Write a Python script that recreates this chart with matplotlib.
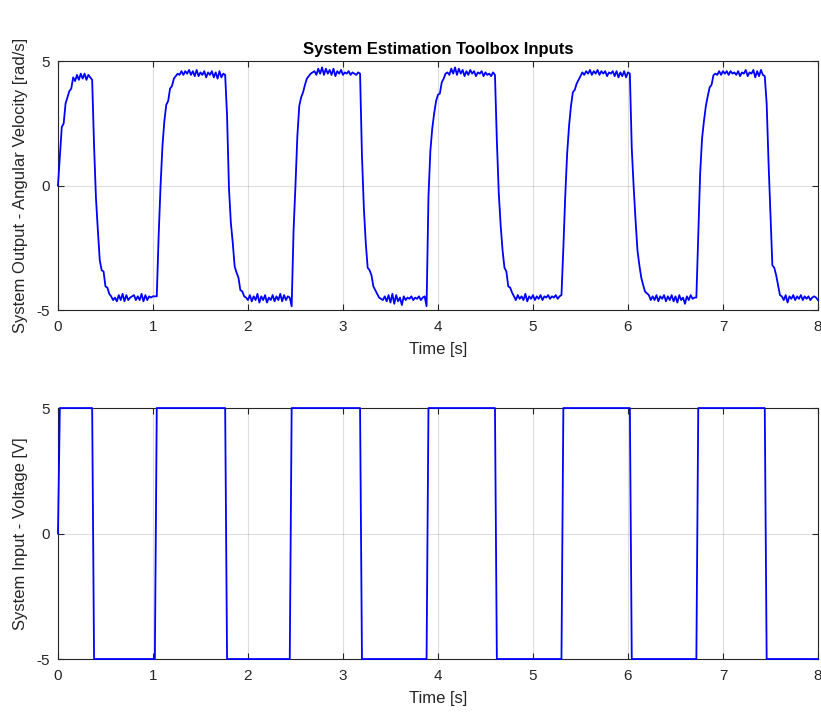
import matplotlib
matplotlib.use("Agg")
import matplotlib.pyplot as plt
import numpy as np

plt.rcParams['font.family'] = ['Liberation Sans', 'DejaVu Sans']
plt.rcParams['axes.unicode_minus'] = False

dt = 0.02  # sample time [s]

# input voltage: time of the last sample before each switch, and the new level
switch_times = [0.0, 0.36, 1.02, 1.76, 2.44, 3.18, 3.88, 4.60, 5.30, 6.02, 6.72, 7.44]
switch_levels = [5, -5, 5, -5, 5, -5, 5, -5, 5, -5, 5, -5]
t_end = 8.0

# output angular velocity [rad/s], sampled every dt, segment by segment
rise0 = [0.0, 1.2, 2.35, 2.5, 3.3, 3.55, 3.8, 3.9, 4.35]
high0 = [4.2, 4.45, 4.25, 4.5, 4.3, 4.5, 4.25, 4.45, 4.35, 4.25]
fall0 = [1.6, -0.5, -1.8, -3.0, -3.4, -3.45, -4.05, -4.1, -4.35, -4.45, -4.6, -4.5]
low0 = [-4.65, -4.4, -4.6, -4.35, -4.65, -4.4, -4.6, -4.5, -4.45, -4.4, -4.6,
        -4.45, -4.6, -4.35, -4.65, -4.4, -4.6, -4.45, -4.5, -4.45, -4.45]
rise1 = [-4.45, -2.0, 0.0, 1.6, 2.6, 3.25, 3.4, 3.9, 4.0, 4.3, 4.4, 4.5]
high1 = [4.45, 4.6, 4.45, 4.6, 4.5, 4.65, 4.45, 4.6, 4.4, 4.65, 4.4, 4.55, 4.45,
         4.6, 4.35, 4.55, 4.45, 4.6, 4.35, 4.55, 4.3, 4.6, 4.35, 4.5, 4.45]
fall1 = [2.8, -0.1, -1.5, -2.3, -3.25, -3.5, -3.7, -4.2, -4.25, -4.45, -4.5]
low1 = [-4.6, -4.4, -4.65, -4.45, -4.6, -4.35, -4.7, -4.45, -4.6, -4.4, -4.7, -4.5,
        -4.6, -4.4, -4.65, -4.45, -4.6, -4.35, -4.65, -4.4, -4.6, -4.45, -4.5, -4.85]
rise2 = [-1.8, 0.0, 2.0, 3.2, 3.55, 3.75, 4.05, 4.3, 4.4, 4.5, 4.55, 4.6]
high2 = [4.45, 4.7, 4.5, 4.75, 4.45, 4.7, 4.5, 4.65, 4.45, 4.7, 4.4, 4.6,
         4.5, 4.65, 4.45, 4.55, 4.5, 4.6, 4.45, 4.55, 4.5, 4.45, 4.55, 4.5]
fall2 = [1.2, -0.9, -2.3, -3.3, -3.4, -3.6, -4.05, -4.2, -4.35, -4.5]
low2 = [-4.55, -4.6, -4.45, -4.65, -4.4, -4.7, -4.35, -4.75, -4.4, -4.65, -4.5, -4.8,
        -4.45, -4.6, -4.5, -4.55, -4.45, -4.6, -4.5, -4.55, -4.45, -4.6, -4.5, -4.45, -4.85]
rise3 = [-0.45, 1.4, 2.3, 2.9, 3.4, 3.65, 3.7, 4.15, 4.3, 4.5, 4.55]
high3 = [4.45, 4.7, 4.5, 4.75, 4.45, 4.7, 4.5, 4.65, 4.4, 4.6, 4.45, 4.65, 4.5,
         4.6, 4.4, 4.55, 4.5, 4.6, 4.4, 4.55, 4.45, 4.5, 4.4, 4.55, 4.45]
fall3 = [1.8, -0.3, -1.6, -2.6, -3.3, -3.45, -4.05, -4.1, -4.3, -4.45]
low3 = [-4.6, -4.4, -4.55, -4.45, -4.6, -4.35, -4.65, -4.45, -4.55, -4.4, -4.6, -4.45,
        -4.55, -4.4, -4.6, -4.45, -4.5, -4.4, -4.55, -4.45, -4.5, -4.4, -4.55, -4.45, -4.4]
rise4 = [-2.5, -0.4, 1.3, 2.4, 3.2, 3.75, 3.85, 4.1, 4.25, 4.4, 4.55]
high4 = [4.45, 4.6, 4.5, 4.65, 4.45, 4.6, 4.5, 4.65, 4.45, 4.6, 4.5, 4.6, 4.4,
         4.55, 4.5, 4.6, 4.4, 4.6, 4.35, 4.55, 4.4, 4.6, 4.35, 4.55, 4.5]
fall4 = [1.5, -0.05, -1.4, -2.6, -3.2, -3.7, -4.0, -4.26, -4.33, -4.4, -4.6]
low4 = [-4.45, -4.6, -4.4, -4.65, -4.45, -4.55, -4.4, -4.65, -4.45, -4.6, -4.4, -4.65,
        -4.45, -4.7, -4.4, -4.6, -4.5, -4.75, -4.45, -4.6, -4.4, -4.55, -4.5, -4.5]
rise5 = [-2.0, 0.5, 1.9, 2.6, 3.2, 3.6, 3.95, 4.05, 4.44, 4.5]
high5 = [4.45, 4.6, 4.45, 4.6, 4.5, 4.6, 4.45, 4.6, 4.5, 4.55, 4.45, 4.6, 4.4,
         4.55, 4.5, 4.65, 4.4, 4.55, 4.5, 4.65, 4.35, 4.6, 4.4, 4.65, 4.45, 4.4]
fall5 = [3.3, 0.9, -1.2, -3.2, -3.3, -3.6, -4.0, -4.4, -4.45]
low5 = [-4.6, -4.4, -4.7, -4.45, -4.55, -4.4, -4.6, -4.45, -4.55, -4.4,
        -4.6, -4.45, -4.55, -4.45, -4.6, -4.5, -4.45, -4.5, -4.6]

omega = np.concatenate([rise0, high0, fall0, low0, rise1, high1, fall1, low1,
                        rise2, high2, fall2, low2, rise3, high3, fall3, low3,
                        rise4, high4, fall4, low4, rise5, high5, fall5, low5])
assert len(omega) == 401, len(omega)
t_out = np.arange(len(omega)) * dt

# build input breakpoints from the switch list
t_in, u_in = [], []
prev = 0
for ts, lvl in zip(switch_times, switch_levels):
    t_in += [ts, ts + dt]
    u_in += [prev, lvl]
    prev = lvl
t_in.append(t_end)
u_in.append(prev)

fig = plt.figure(figsize=(8.21, 7.15), dpi=100)
ax1 = fig.add_axes([0.0706, 0.5664, 0.9257, 0.348])
ax2 = fig.add_axes([0.0706, 0.0783, 0.9257, 0.351])

edge = (0.15, 0.15, 0.15)
for ax in (ax1, ax2):
    ax.set_xlim(0, 8)
    ax.set_ylim(-5, 5)
    ax.set_xticks(range(0, 9))
    ax.set_yticks([-5, 0, 5])
    ax.grid(True, color=(0.15, 0.15, 0.15), alpha=0.15, linewidth=0.8)
    ax.tick_params(direction='in', top=True, right=True, length=4,
                   labelsize=11, colors=edge, width=0.8)
    ax.tick_params(axis='x', pad=7)
    ax.tick_params(axis='y', pad=6)
    for s in ax.spines.values():
        s.set_color(edge)
        s.set_linewidth(0.8)
    ax.set_xlabel('Time [s]', fontsize=12, color=edge, labelpad=6)

ax1.plot(t_out, omega, color=(0, 0, 1), linewidth=1.3, clip_on=False, zorder=5)
ax1.set_ylabel('System Output - Angular Velocity [rad/s]', fontsize=12, color=edge, labelpad=6)
ax1.set_title('System Estimation Toolbox Inputs', fontsize=12, fontweight='bold', pad=5)

ax2.plot(t_in, u_in, color=(0, 0, 1), linewidth=1.3, clip_on=False, zorder=5)
ax2.set_ylabel('System Input - Voltage [V]', fontsize=12, color=edge, labelpad=6)

fig.savefig('out.png', dpi=100)
